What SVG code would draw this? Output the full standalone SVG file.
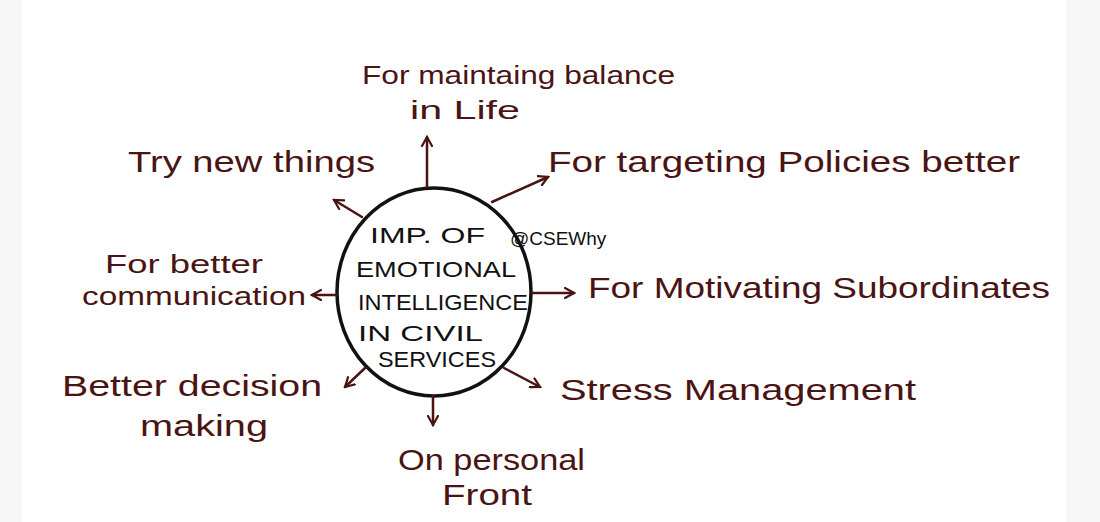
<svg xmlns="http://www.w3.org/2000/svg" width="1100" height="522" viewBox="0 0 1100 522">
<defs>
<style>
.lbl{font-family:"Liberation Sans",Arial,sans-serif;font-size:30px;fill:#4a1414;}
.sm{font-size:26px;}
.ctr{font-family:"Liberation Sans",Arial,sans-serif;font-size:22px;fill:#111;}
.wm{font-family:"Liberation Sans",Arial,sans-serif;font-size:19px;fill:#111;}
.ln{stroke:#4a1414;stroke-width:2.5;fill:none;stroke-linecap:round;}
</style>
<marker id="ah" viewBox="0 0 12 12" refX="10" refY="6" markerWidth="12" markerHeight="12" markerUnits="userSpaceOnUse" orient="auto">
<path d="M1,1 L10,6 L1,11" fill="none" stroke="#4a1414" stroke-width="2.2" stroke-linecap="round"/>
</marker>
</defs>
<rect width="1100" height="522" fill="#ffffff"/>
<rect x="0" y="0" width="22" height="522" fill="#f7f7f7"/>
<rect x="1066" y="0" width="34" height="522" fill="#f7f7f7"/>
<g id="center">
<ellipse cx="434" cy="292" rx="97" ry="104" fill="#ffffff" stroke="#111" stroke-width="3.5"/>
<text class="ctr" x="370" y="243" textLength="115" lengthAdjust="spacingAndGlyphs">IMP. OF</text>
<text class="ctr" x="356" y="277" textLength="160" lengthAdjust="spacingAndGlyphs">EMOTIONAL</text>
<text class="ctr" x="358" y="310" textLength="170" lengthAdjust="spacingAndGlyphs">INTELLIGENCE</text>
<text class="ctr" x="358" y="341" textLength="125" lengthAdjust="spacingAndGlyphs">IN CIVIL</text>
<text class="ctr" x="378" y="367" textLength="118" lengthAdjust="spacingAndGlyphs">SERVICES</text>
</g>
<text class="wm" x="510" y="245">@CSEWhy</text>
<g id="connectors">
<line class="ln" x1="427" y1="187" x2="427" y2="137" marker-end="url(#ah)"/>
<line class="ln" x1="362" y1="217" x2="334" y2="200" marker-end="url(#ah)"/>
<line class="ln" x1="492" y1="202" x2="548" y2="177" marker-end="url(#ah)"/>
<line class="ln" x1="337" y1="295" x2="312" y2="295" marker-end="url(#ah)"/>
<line class="ln" x1="532" y1="293" x2="574" y2="293" marker-end="url(#ah)"/>
<line class="ln" x1="365" y1="368" x2="345" y2="387" marker-end="url(#ah)"/>
<line class="ln" x1="504" y1="368" x2="540" y2="387" marker-end="url(#ah)"/>
<line class="ln" x1="433" y1="396" x2="433" y2="425" marker-end="url(#ah)"/>
</g>
<g id="n-balance">
<text class="lbl sm" x="362" y="84" textLength="313" lengthAdjust="spacingAndGlyphs">For maintaing balance</text>
<text class="lbl sm" x="410" y="119" textLength="110" lengthAdjust="spacingAndGlyphs">in Life</text>
</g>
<g id="n-try">
<text class="lbl" x="128" y="172" textLength="247" lengthAdjust="spacingAndGlyphs">Try new things</text>
</g>
<g id="n-policies">
<text class="lbl" x="548" y="172" textLength="472" lengthAdjust="spacingAndGlyphs">For targeting Policies better</text>
</g>
<g id="n-communication">
<text class="lbl sm" x="105" y="273" textLength="158" lengthAdjust="spacingAndGlyphs">For better</text>
<text class="lbl sm" x="82" y="305" textLength="224" lengthAdjust="spacingAndGlyphs">communication</text>
</g>
<g id="n-motivating">
<text class="lbl" x="588" y="298" textLength="462" lengthAdjust="spacingAndGlyphs">For Motivating Subordinates</text>
</g>
<g id="n-decision">
<text class="lbl" x="62" y="396" textLength="260" lengthAdjust="spacingAndGlyphs">Better decision</text>
<text class="lbl" x="140" y="436" textLength="128" lengthAdjust="spacingAndGlyphs">making</text>
</g>
<g id="n-stress">
<text class="lbl" x="560" y="400" textLength="356" lengthAdjust="spacingAndGlyphs">Stress Management</text>
</g>
<g id="n-personal">
<text class="lbl" x="398" y="470" textLength="187" lengthAdjust="spacingAndGlyphs">On personal</text>
<text class="lbl" x="442" y="505" textLength="90" lengthAdjust="spacingAndGlyphs">Front</text>
</g>
</svg>
